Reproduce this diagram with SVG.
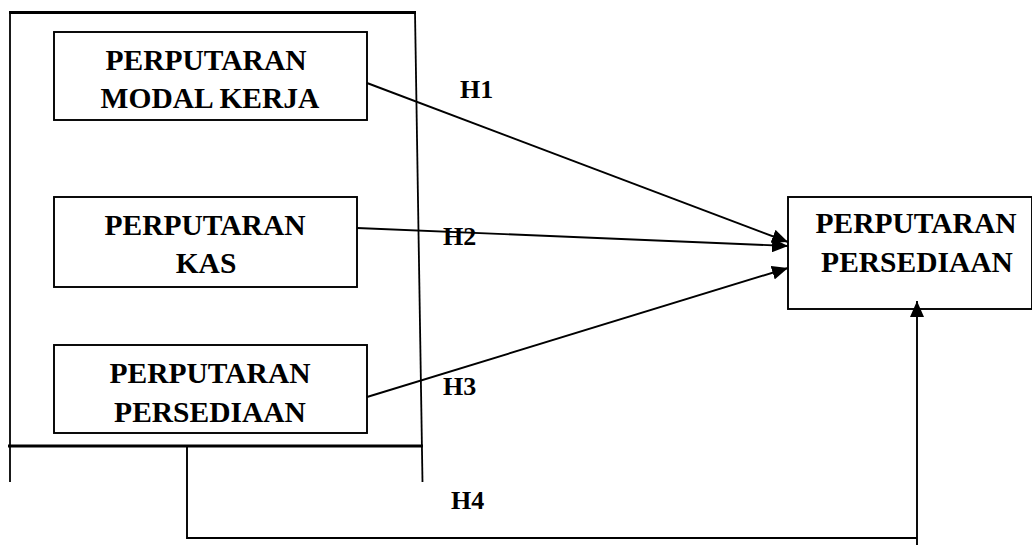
<svg xmlns="http://www.w3.org/2000/svg" width="1032" height="545" viewBox="0 0 1032 545">
  <style>
    .box { fill: #fff; stroke: #000; stroke-width: 1.9; }
    .frame { fill: none; stroke: #000; stroke-width: 1.8; }
    .thick { fill: none; stroke: #000; stroke-width: 2.9; }
    .link { fill: none; stroke: #000; stroke-width: 1.9; }
    .lbl { font-family: "Liberation Serif", "Times New Roman", serif; font-weight: bold; font-size: 29.5px; fill: #000; text-anchor: middle; }
    .hyp { font-family: "Liberation Serif", "Times New Roman", serif; font-weight: bold; font-size: 26px; fill: #000; }
  </style>
  <defs>
    <marker id="arrow" viewBox="0 0 16 14" refX="16" refY="7" markerWidth="16" markerHeight="14" markerUnits="userSpaceOnUse" orient="auto">
      <path d="M0,0 L16,7 L0,14 z" fill="#000"/>
    </marker>
  </defs>

  <!-- grouping frame around the independent variables -->
  <g id="frame">
    <line class="thick" x1="9" y1="12.5" x2="416" y2="12.5"/>
    <line class="frame" x1="10" y1="12" x2="10" y2="482"/>
    <line class="frame" x1="415" y1="12" x2="422.5" y2="482"/>
    <line class="thick" x1="8" y1="446" x2="423" y2="446"/>
  </g>

  <g id="modal-kerja">
    <rect class="box" x="54" y="32" width="313" height="88"/>
    <text class="lbl" x="206" y="70">PERPUTARAN</text>
    <text class="lbl" x="210" y="108">MODAL KERJA</text>
  </g>

  <g id="kas">
    <rect class="box" x="54" y="197" width="303" height="90"/>
    <text class="lbl" x="205" y="235">PERPUTARAN</text>
    <text class="lbl" x="206" y="273">KAS</text>
  </g>

  <g id="persediaan-x">
    <rect class="box" x="54" y="345" width="313" height="88"/>
    <text class="lbl" x="210" y="383">PERPUTARAN</text>
    <text class="lbl" x="210" y="422">PERSEDIAAN</text>
  </g>

  <g id="persediaan-y">
    <rect class="box" x="788" y="197" width="244" height="112"/>
    <text class="lbl" x="916" y="233">PERPUTARAN</text>
    <text class="lbl" x="917" y="272">PERSEDIAAN</text>
  </g>

  <g id="connectors">
    <line class="link" x1="367" y1="83" x2="788" y2="242" marker-end="url(#arrow)"/>
    <line class="link" x1="357" y1="228" x2="788" y2="246" marker-end="url(#arrow)"/>
    <line class="link" x1="367" y1="397" x2="788" y2="268" marker-end="url(#arrow)"/>
    <polyline class="link" points="187,446 187,538 917,538"/>
    <line class="link" x1="917" y1="545" x2="917" y2="301" marker-end="url(#arrow)"/>
  </g>

  <g id="labels">
    <text class="hyp" x="460" y="98">H1</text>
    <text class="hyp" x="443" y="245">H2</text>
    <text class="hyp" x="443" y="395">H3</text>
    <text class="hyp" x="451" y="509">H4</text>
  </g>
</svg>
